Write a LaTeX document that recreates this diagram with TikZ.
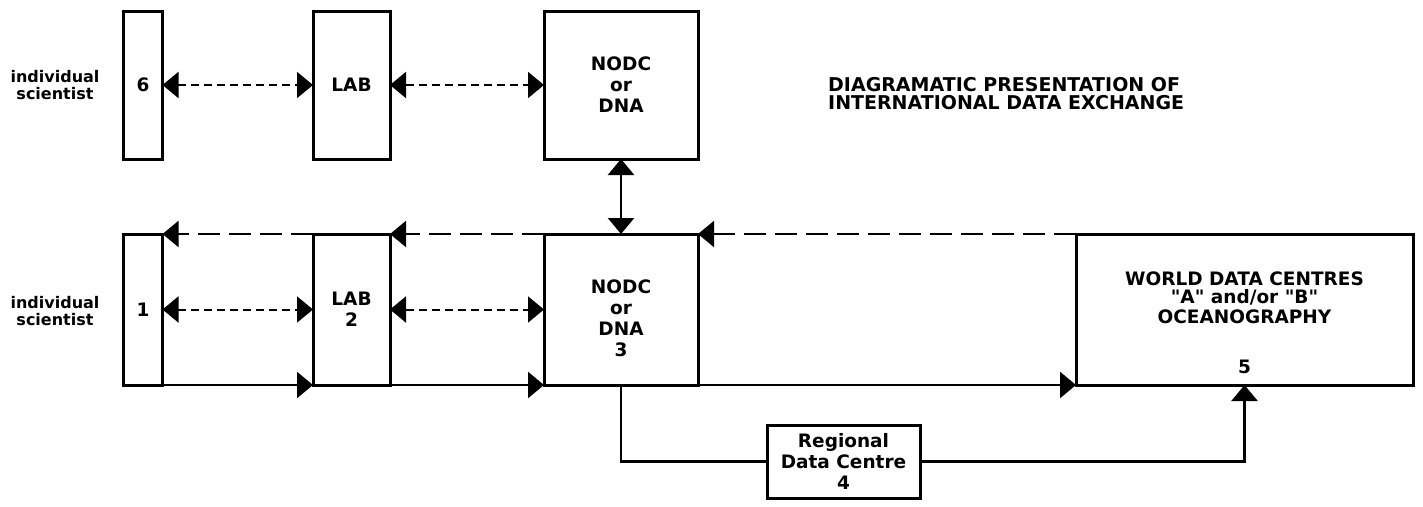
\documentclass[tikz,border=0pt]{standalone}
\usepackage{fontspec}
\setmainfont{DejaVu Sans}
\usetikzlibrary{arrows.meta}

\tikzset{
  unit/.style={draw, line width=3pt, inner sep=0pt, outer sep=0pt, align=center,
    font=\bfseries\fontsize{18.5}{21}\selectfont},
  lbl/.style={inner sep=0pt, align=center, font=\bfseries\fontsize{18.5}{21}\selectfont},
  side/.style={inner sep=0pt, align=center, font=\bfseries\fontsize{16}{17}\selectfont},
  flow/.style={line width=2.4pt},
  swap/.style={line width=2pt, dash pattern=on 8pt off 5pt},
  back/.style={line width=2pt, dash pattern=on 22pt off 9pt}
}

\begin{document}
\begin{tikzpicture}[x=1pt, y=-1pt, >={Triangle[length=16pt, width=26pt]}]
  \useasboundingbox (0,0) rectangle (1423,506);

  % Upper row: scientist, laboratory, national centre
  \node [side] (sciA) at (55,85.5) {individual\\scientist};
  \node [unit, minimum width=39pt, minimum height=148pt] (six) at (143,85) {6};
  \node [unit, minimum width=77pt, minimum height=148pt] (labA) at (351.5,85) {LAB};
  \node [unit, minimum width=154pt, minimum height=148pt] (nodcA) at (621,85) {NODC\\or\\DNA};

  % Title
  \node [lbl, align=left, anchor=north west, font=\bfseries\fontsize{19}{21}\selectfont]
    (title) at (828,77) {DIAGRAMATIC PRESENTATION OF\\[-2.5pt]INTERNATIONAL DATA EXCHANGE};

  % Lower row
  \node [side] (sciB) at (55,311) {individual\\scientist};
  \node [unit, minimum width=39pt, minimum height=151pt] (one) at (143,309.5) {1};
  \node [unit, minimum width=77pt, minimum height=151pt] (lab2) at (351.5,309.5) {LAB\\2};
  \node [unit, minimum width=154pt, minimum height=151pt] (nodc3) at (621,309.5) {};
  \node [lbl] (nodc3txt) at (621,318) {NODC\\or\\DNA\\3};
  \node [unit, minimum width=337pt, minimum height=151pt] (wdc) at (1244.5,309.5) {};
  \node [lbl] (wdctxt) at (1244.5,323)
    {WORLD DATA CENTRES\\[-3pt]\textquotedbl A\textquotedbl{} and/or \textquotedbl B\textquotedbl\\[-1pt]OCEANOGRAPHY\\[29pt]5};
  \node [unit, minimum width=153pt, minimum height=73pt] (rdc) at (843.5,461.5)
    {Regional\\Data Centre\\4};

  % Exchanges in both directions
  \draw [<->, swap] (six) -- (labA);
  \draw [<->, swap] (labA) -- (nodcA);
  \draw [<->, swap] (one) -- (lab2);
  \draw [<->, swap] (lab2) -- (nodc3);
  \draw [<->, flow] (nodcA) -- (nodc3);

  % Data flowing back along the top
  \draw [->, back] (wdc.north west) -- (nodc3.north east);
  \draw [->, back] (nodc3.north west) -- (lab2.north east);
  \draw [->, back] (lab2.north west) -- (one.north east);

  % Data flowing forward along the bottom
  \draw [->, flow] (one.south east) -- (lab2.south west);
  \draw [->, flow] (lab2.south east) -- (nodc3.south west);
  \draw [->, flow] (nodc3.south east) -- (wdc.south west);

  % Route through the regional centre
  \draw [flow] (nodc3.south) |- (rdc.west);
  \draw [->, flow] (rdc.east) -| (wdc.south);
\end{tikzpicture}
\end{document}
